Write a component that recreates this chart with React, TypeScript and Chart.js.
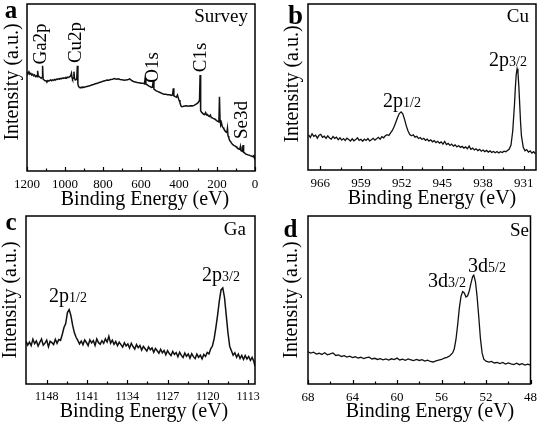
import React, { useEffect, useRef } from "react";
import { Chart, registerables } from "chart.js";

Chart.register(...registerables);

const FONT = "'Liberation Serif', 'Times New Roman', Times, serif";

// ---------- Panel a: survey ----------
const surveyEnergy = [
  1200, 1195, 1190, 1185, 1180, 1175, 1170, 1165, 1160, 1155, 1150, 1147, 1144, 1141, 1136, 1130, 1125, 1121, 1118, 1115,
  1110, 1105, 1100, 1095, 1090, 1085, 1080, 1075, 1070, 1065, 1060, 1055, 1050, 1045, 1040, 1035, 1030, 1025, 1020, 1015,
  1010, 1005, 1000, 995, 990, 985, 980, 975, 970, 966, 963, 960, 957, 953, 950, 946, 942, 938, 935, 932,
  928, 924, 920, 915, 910, 905, 900, 890, 880, 870, 860, 850, 840, 830, 820, 810, 800, 790, 780, 770,
  760, 750, 740, 730, 720, 710, 700, 690, 680, 670, 660, 650, 640, 630, 620, 610, 600, 590, 582, 578,
  574, 566, 560, 552, 545, 540, 535, 532, 525, 520, 510, 500, 490, 480, 470, 460, 450, 440, 434, 430,
  427, 420, 414, 408, 404, 400, 395, 390, 385, 380, 370, 360, 350, 340, 330, 320, 310, 302, 296, 292,
  289, 286, 282, 275, 270, 265, 260, 255, 250, 245, 240, 235, 230, 225, 220, 215, 210, 205, 200, 195,
  190, 187, 184, 180, 176, 172, 168, 164, 160, 156, 152, 148, 145, 142, 138, 134, 130, 125, 120, 115,
  110, 105, 100, 95, 90, 85, 80, 77, 74, 70, 66, 63, 60, 55, 50, 45, 40, 35, 30, 25,
  20, 15, 10, 7, 5, 3, 0,
];
const surveyIntensity = [
  59, 58.5, 59.5, 58, 58.5, 57.5, 58, 57, 57.5, 56.5, 57, 56.5, 60, 57, 56.5, 56, 55.5, 56, 63, 55,
  54.5, 54, 54, 53.5, 54.2, 53.8, 54.2, 54.5, 54, 54.6, 54.3, 54.8, 54.5, 55, 54.8, 55.2, 55, 55.5, 55.2, 55.6,
  55.4, 55.8, 55.5, 56, 55.8, 56.2, 56, 56.5, 57, 58.5, 56, 55, 55.5, 59.5, 55.5, 54.5, 54.8, 55.5, 63, 52,
  50.5, 50, 49.8, 50.2, 49.8, 50.3, 50, 50.5, 50.8, 51, 51.5, 51.8, 52.2, 52.5, 53, 53.3, 53.8, 54, 54.5, 54.4,
  54.8, 55, 55.3, 55, 55.2, 54.8, 54.7, 54.3, 54.5, 54.6, 55.2, 54.3, 53.6, 53.3, 53, 52.8, 52.5, 52.6, 52.2, 55.8,
  52, 51.5, 51, 50.5, 50, 50.2, 54.5, 49, 48.5, 48, 47.5, 47, 46.5, 46, 46, 45.7, 45.6, 45.3, 45.5, 49.5,
  45, 44.5, 44.2, 45.5, 43.8, 42.5, 41, 39, 38.5, 38.6, 38.9, 39, 38.8, 39.1, 39, 39.3, 40, 40.6, 41.5, 42.5,
  57.5, 36, 35.3, 34.5, 34, 33.8, 35, 33.5, 33.8, 33, 32.6, 33.5, 32, 31.8, 31.5, 31.3, 31, 30.5, 30, 29.7,
  29.5, 44.5, 30.5, 27.5, 28.5, 26.5, 26, 25.2, 24.5, 23.8, 23.2, 23, 25.5, 21, 20, 18.5, 17.8, 17, 16.2, 15.6,
  15.2, 15, 14.6, 14, 13.6, 13.2, 13, 14.6, 12.2, 12, 11.8, 15.5, 11.2, 10.8, 10.3, 10, 9.8, 9.6, 9.5, 9.2,
  9, 8.8, 8.5, 9.6, 8.3, 7.8, 7.2,
];
const surveyTicks = [1200, 1000, 800, 600, 400, 200, 0];
const surveyMinor = [1100, 900, 700, 500, 300, 100];

// ---------- Panel b: Cu 2p ----------
const cuEnergy = [
  968.0, 967.7, 967.4, 967.1, 966.8, 966.5, 966.2, 965.9, 965.6, 965.3, 965.0, 964.7, 964.4, 964.1, 963.8, 963.5,
  963.2, 962.9, 962.6, 962.3, 962.0, 961.7, 961.4, 961.1, 960.8, 960.5, 960.2, 959.9, 959.6, 959.3, 959.0, 958.7,
  958.4, 958.1, 957.8, 957.5, 957.2, 956.9, 956.6, 956.3, 956.0, 955.7, 955.4, 955.1, 954.8, 954.5, 954.2, 953.9,
  953.6, 953.3, 953.0, 952.7, 952.4, 952.1, 951.8, 951.5, 951.2, 950.9, 950.6, 950.3, 950.0, 949.7, 949.4, 949.1,
  948.8, 948.5, 948.2, 947.9, 947.6, 947.3, 947.0, 946.7, 946.4, 946.1, 945.8, 945.5, 945.2, 944.9, 944.6, 944.3,
  944.0, 943.7, 943.4, 943.1, 942.8, 942.5, 942.2, 941.9, 941.6, 941.3, 941.0, 940.7, 940.4, 940.1, 939.8, 939.5,
  939.2, 938.9, 938.6, 938.3, 938.0, 937.7, 937.4, 937.1, 936.8, 936.5, 936.2, 935.9, 935.6, 935.3, 935.0, 934.7,
  934.4, 934.1, 933.8, 933.5, 933.2, 932.9, 932.6, 932.45, 932.3, 932.15, 932.0, 931.85, 931.7, 931.55, 931.4, 931.1,
  930.8, 930.5, 930.2, 929.9, 929.6, 929.3, 929.0,
];
const cuIntensity = [
  21.2, 19.6, 21.8, 20.3, 21.0, 19.2, 20.9, 21.5, 19.7, 20.4, 19.0, 20.6, 19.3, 18.6, 20.2, 19.1,
  19.8, 18.2, 19.4, 18.0, 18.9, 17.8, 19.2, 18.4, 17.5, 18.8, 17.6, 18.3, 19.4, 17.9, 18.5, 17.3,
  18.6, 17.8, 18.9, 17.5, 18.2, 19.1, 18.0, 18.8, 19.7, 18.6, 20.1, 19.4, 20.6, 21.3, 20.8, 22.4,
  23.8, 26.0, 28.8, 31.6, 34.0, 35.0, 33.8, 30.5, 26.6, 23.5, 21.4, 20.6, 21.2, 19.8, 20.3, 19.0,
  19.6, 18.4, 19.1, 17.9, 18.6, 17.4, 18.2, 17.0, 17.7, 16.5, 17.3, 16.2, 16.9, 15.6, 17.2, 15.3,
  16.0, 14.8, 15.6, 14.4, 15.1, 13.9, 14.7, 13.6, 14.2, 13.2, 13.9, 12.8, 14.4, 12.5, 13.2, 12.1,
  12.8, 11.7, 12.4, 11.3, 12.0, 11.1, 11.8, 10.8, 11.5, 10.6, 11.2, 10.4, 11.1, 10.3, 11.0, 10.5,
  11.3, 11.0, 11.8, 12.6, 15.0, 23.5, 39.5, 49.5, 57.5, 61.0, 58.5, 50.5, 39.5, 28.5, 20.5, 13.8,
  11.6, 12.3, 10.8, 11.5, 10.2, 11.0, 9.8,
];
const cuTicks = [966, 959, 952, 945, 938, 931];
const cuMinor = [962.5, 955.5, 948.5, 941.5, 934.5];

// ---------- Panel c: Ga 2p ----------
const gaEnergy = [
  1151.6, 1151.3, 1151.0, 1150.7, 1150.4, 1150.1, 1149.8, 1149.5, 1149.2, 1148.9, 1148.6, 1148.3, 1148.0, 1147.7,
  1147.4, 1147.1, 1146.8, 1146.5, 1146.2, 1145.9, 1145.6, 1145.3, 1145.0, 1144.7, 1144.4, 1144.1, 1143.8, 1143.5,
  1143.2, 1142.9, 1142.6, 1142.3, 1142.0, 1141.7, 1141.4, 1141.1, 1140.8, 1140.5, 1140.2, 1139.9, 1139.6, 1139.3,
  1139.0, 1138.7, 1138.4, 1138.1, 1137.8, 1137.5, 1137.2, 1136.9, 1136.6, 1136.3, 1136.0, 1135.7, 1135.4, 1135.1,
  1134.8, 1134.5, 1134.2, 1133.9, 1133.6, 1133.3, 1133.0, 1132.7, 1132.4, 1132.1, 1131.8, 1131.5, 1131.2, 1130.9,
  1130.6, 1130.3, 1130.0, 1129.7, 1129.4, 1129.1, 1128.8, 1128.5, 1128.2, 1127.9, 1127.6, 1127.3, 1127.0, 1126.7,
  1126.4, 1126.1, 1125.8, 1125.5, 1125.2, 1124.9, 1124.6, 1124.3, 1124.0, 1123.7, 1123.4, 1123.1, 1122.8, 1122.5,
  1122.2, 1121.9, 1121.6, 1121.3, 1121.0, 1120.7, 1120.4, 1120.1, 1119.8, 1119.5, 1119.2, 1118.9, 1118.6, 1118.3,
  1118.0, 1117.7, 1117.4, 1117.1, 1116.8, 1116.5, 1116.2, 1115.9, 1115.6, 1115.3, 1115.0, 1114.7, 1114.4, 1114.1,
  1113.8, 1113.5, 1113.2, 1112.9, 1112.6, 1112.3, 1112.0, 1111.8,
];
const gaIntensity = [
  25.5, 23.2, 24.9, 22.8, 26.7, 24.0, 25.6, 22.6, 24.8, 26.8, 23.1, 24.3, 26.1, 22.2,
  25.4, 24.6, 23.5, 26.6, 24.2, 26.5, 26.0, 29.5, 33.6, 36.0, 42.5, 44.3, 40.8, 35.0,
  30.6, 27.8, 26.0, 23.9, 25.6, 23.4, 26.2, 24.7, 22.9, 26.3, 24.5, 25.9, 23.0, 26.8,
  24.6, 23.7, 25.8, 24.2, 26.9, 25.0, 28.4, 24.3, 26.1, 23.6, 25.3, 22.8, 24.9, 23.4,
  21.9, 24.6, 22.7, 23.9, 21.4, 24.2, 22.3, 20.8, 23.5, 21.6, 22.9, 20.2, 22.4, 21.0,
  19.6, 22.1, 20.4, 21.5, 18.9, 21.2, 19.8, 18.3, 20.7, 18.6, 19.9, 17.4, 19.8, 18.1,
  16.9, 19.4, 17.6, 18.7, 16.2, 18.9, 17.0, 15.8, 18.4, 16.5, 17.9, 15.4, 18.0, 16.3,
  15.1, 17.8, 15.9, 17.2, 15.0, 17.6, 16.4, 18.8, 17.9, 21.0, 22.6, 27.0, 33.5, 41.0,
  49.5, 56.0, 57.2, 51.5, 41.0, 30.5, 22.5, 19.8, 17.2, 18.6, 15.9, 17.8, 15.2, 17.0,
  14.6, 16.9, 14.9, 16.4, 14.1, 15.8, 13.5, 10.5,
];
const gaTicks = [1148, 1141, 1134, 1127, 1120, 1113];
const gaMinor = [1144.5, 1137.5, 1130.5, 1123.5, 1116.5];

// ---------- Panel d: Se 3d ----------
const seEnergy = [
  68.0, 67.75, 67.5, 67.25, 67.0, 66.75, 66.5, 66.25, 66.0, 65.75, 65.5, 65.25, 65.0, 64.75, 64.5, 64.25,
  64.0, 63.75, 63.5, 63.25, 63.0, 62.75, 62.5, 62.25, 62.0, 61.75, 61.5, 61.25, 61.0, 60.75, 60.5, 60.25,
  60.0, 59.75, 59.5, 59.25, 59.0, 58.75, 58.5, 58.25, 58.0, 57.75, 57.5, 57.25, 57.0, 56.75, 56.5, 56.25,
  56.0, 55.75, 55.5, 55.25, 55.0, 54.85, 54.7, 54.55, 54.4, 54.25, 54.1, 53.95, 53.8, 53.65, 53.5, 53.35,
  53.2, 53.1, 52.95, 52.8, 52.65, 52.5, 52.35, 52.2, 52.0, 51.75, 51.5, 51.25, 51.0, 50.75, 50.5, 50.25,
  50.0, 49.75, 49.5, 49.25, 49.0, 48.75, 48.5, 48.25, 48.0,
];
const seIntensity = [
  19.2, 18.4, 18.9, 17.8, 18.3, 17.6, 18.6, 17.4, 17.9, 18.5, 17.0, 17.3, 16.4, 16.9, 16.0, 16.6,
  15.7, 16.2, 15.4, 15.9, 15.1, 15.7, 16.0, 14.9, 15.3, 14.6, 15.1, 14.4, 14.9, 14.2, 15.0, 14.5,
  15.4, 14.3, 14.8, 14.1, 14.9, 14.4, 13.9, 14.6, 14.0, 14.5, 13.6, 14.2, 13.4, 13.1, 13.8, 14.2,
  14.6, 15.4, 15.9, 16.8, 18.5, 21.0, 26.5, 35.0, 45.0, 52.0, 55.0, 54.2, 51.8, 52.5, 55.5, 60.0,
  64.0, 64.8, 61.0, 52.0, 40.0, 27.0, 18.5, 14.8, 13.6, 13.0, 13.4, 12.5, 12.9, 12.2, 12.8, 11.9,
  12.6, 12.0, 11.6, 12.4, 11.5, 12.1, 11.3, 11.8, 11.2,
];
const seTicks = [68, 64, 60, 56, 52, 48];
const seMinor = [66, 62, 58, 54, 50];

type Note = { text: string; sub?: string; x: number; y: number; rot?: boolean };

type Panel = {
  left: number; top: number; w: number; h: number;
  area: { l: number; t: number; r: number; b: number };
  energy: number[]; intensity: number[];
  min: number; max: number;
  major: number[]; minor: number[];
  tickSize: number;
  lineWidth: number;
  letter: string; letterPos: [number, number]; letterSize: number;
  corner: string; cornerPos: [number, number];
  yTitle: [number, number];
  xTitle: [number, number];
  notes: Note[];
};

const panels: Panel[] = [
  {
    left: 0, top: 0, w: 271, h: 212,
    area: { l: 27, t: 4, r: 255, b: 171 },
    energy: surveyEnergy, intensity: surveyIntensity,
    min: 0, max: 1200, major: surveyTicks, minor: surveyMinor, tickSize: 13, lineWidth: 1.5,
    letter: "a", letterPos: [11, 18], letterSize: 25,
    corner: "Survey", cornerPos: [248, 22],
    yTitle: [12.5, 82], xTitle: [145, 200],
    notes: [
      { text: "Ga2p", x: 41, y: 44, rot: true },
      { text: "Cu2p", x: 76, y: 42.5, rot: true },
      { text: "O1s", x: 153.5, y: 67.5, rot: true },
      { text: "C1s", x: 201.5, y: 57.5, rot: true },
      { text: "Se3d", x: 242.5, y: 120, rot: true },
    ],
  },
  {
    left: 271, top: 0, w: 272, h: 212,
    area: { l: 37, t: 4, r: 265, b: 170 },
    energy: cuEnergy, intensity: cuIntensity,
    min: 928.9, max: 968.1, major: cuTicks, minor: cuMinor, tickSize: 13, lineWidth: 1.3,
    letter: "b", letterPos: [24.5, 24], letterSize: 27,
    corner: "Cu", cornerPos: [258, 22],
    yTitle: [21.5, 84], xTitle: [161, 199],
    notes: [
      { text: "2p", sub: "3/2", x: 218, y: 66 },
      { text: "2p", sub: "1/2", x: 112, y: 107 },
    ],
  },
  {
    left: 0, top: 212, w: 271, h: 213,
    area: { l: 26, t: 4, r: 255, b: 172 },
    energy: gaEnergy, intensity: gaIntensity,
    min: 1111.8, max: 1151.6, major: gaTicks, minor: gaMinor, tickSize: 12, lineWidth: 1.5,
    letter: "c", letterPos: [11, 18], letterSize: 25,
    corner: "Ga", cornerPos: [246, 23],
    yTitle: [10.5, 88], xTitle: [144, 200],
    notes: [
      { text: "2p", sub: "1/2", x: 49, y: 90 },
      { text: "2p", sub: "3/2", x: 202, y: 69 },
    ],
  },
  {
    left: 271, top: 212, w: 272, h: 213,
    area: { l: 37, t: 4, r: 264, b: 172 },
    energy: seEnergy, intensity: seIntensity,
    min: 48, max: 68, major: seTicks, minor: seMinor, tickSize: 13, lineWidth: 1.3,
    letter: "d", letterPos: [19.5, 25], letterSize: 25,
    corner: "Se", cornerPos: [258, 24],
    yTitle: [20.5, 88], xTitle: [159, 200],
    notes: [
      { text: "3d", sub: "3/2", x: 157, y: 75 },
      { text: "3d", sub: "5/2", x: 197, y: 60 },
    ],
  },
];

function makeDecor(p: Panel) {
  return {
    id: "decor",
    afterDatasetsDraw(chart: any) {
      const ctx: CanvasRenderingContext2D = chart.ctx;
      const { left, right, top, bottom } = chart.chartArea;
      const xs = chart.scales.x;
      ctx.save();
      ctx.strokeStyle = "#000";
      ctx.fillStyle = "#000";
      ctx.lineWidth = 1.5;
      ctx.strokeRect(left, top, right - left, bottom - top);
      ctx.lineWidth = 1.2;
      const tick = (v: number, len: number) => {
        const x = Math.round(xs.getPixelForValue(v)) + 0.5;
        ctx.beginPath();
        ctx.moveTo(x, bottom);
        ctx.lineTo(x, bottom - len);
        ctx.stroke();
      };
      p.major.forEach((v) => tick(v, 4));
      p.minor.forEach((v) => tick(v, 2.5));

      ctx.font = `bold ${p.letterSize}px ${FONT}`;
      ctx.textAlign = "center";
      ctx.textBaseline = "alphabetic";
      ctx.fillText(p.letter, p.letterPos[0], p.letterPos[1]);

      ctx.font = `19px ${FONT}`;
      ctx.textAlign = "right";
      ctx.fillText(p.corner, p.cornerPos[0], p.cornerPos[1]);

      ctx.save();
      ctx.translate(p.yTitle[0], p.yTitle[1]);
      ctx.rotate(-Math.PI / 2);
      ctx.font = `20px ${FONT}`;
      ctx.textAlign = "center";
      ctx.textBaseline = "middle";
      ctx.fillText("Intensity (a.u.)", 0, 0);
      ctx.restore();

      ctx.font = `20px ${FONT}`;
      ctx.textAlign = "center";
      ctx.textBaseline = "middle";
      ctx.fillText("Binding Energy (eV)", p.xTitle[0], p.xTitle[1]);

      p.notes.forEach((n) => {
        if (n.rot) {
          ctx.save();
          ctx.translate(n.x, n.y);
          ctx.rotate(-Math.PI / 2);
          ctx.font = `19px ${FONT}`;
          ctx.textAlign = "center";
          ctx.textBaseline = "middle";
          ctx.fillText(n.text, 0, 0);
          ctx.restore();
        } else {
          ctx.textAlign = "left";
          ctx.textBaseline = "alphabetic";
          ctx.font = `20px ${FONT}`;
          ctx.fillText(n.text, n.x, n.y);
          const w = ctx.measureText(n.text).width;
          if (n.sub) {
            ctx.font = `14px ${FONT}`;
            ctx.fillText(n.sub, n.x + w, n.y);
          }
        }
      });
      ctx.restore();
    },
  };
}

function PanelChart({ p }: { p: Panel }) {
  const ref = useRef<HTMLCanvasElement | null>(null);
  useEffect(() => {
    if (!ref.current) return;
    const data = p.energy.map((e, i) => ({ x: e, y: p.intensity[i] }));
    const chart = new Chart(ref.current, {
      type: "line",
      data: {
        datasets: [
          {
            data,
            borderColor: "#111",
            borderWidth: p.lineWidth,
            pointRadius: 0,
            tension: 0,
            fill: false,
          },
        ],
      },
      options: {
        animation: false,
        responsive: false,
        devicePixelRatio: 1,
        parsing: false,
        normalized: true,
        layout: { padding: { left: 0, top: p.area.t, right: p.w - p.area.r, bottom: 0 } },
        plugins: { legend: { display: false }, tooltip: { enabled: false }, title: { display: false } },
        scales: {
          x: {
            type: "linear",
            reverse: true,
            min: p.min,
            max: p.max,
            grid: { display: false, drawTicks: false },
            border: { display: false },
            afterBuildTicks: (s: any) => {
              s.ticks = p.major.map((v) => ({ value: v }));
            },
            afterFit: (s: any) => {
              s.height = p.h - p.area.b;
            },
            ticks: {
              autoSkip: false,
              maxRotation: 0,
              minRotation: 0,
              padding: 6,
              color: "#000",
              font: { family: FONT, size: p.tickSize },
              callback: (v: any) => String(v),
            },
          },
          y: {
            type: "linear",
            min: 0,
            max: 100,
            grid: { display: false, drawTicks: false },
            border: { display: false },
            ticks: { display: false },
            afterFit: (s: any) => {
              s.width = p.area.l;
            },
          },
        },
      } as any,
      plugins: [makeDecor(p)],
    });
    return () => chart.destroy();
  }, [p]);
  return (
    <canvas
      ref={ref}
      width={p.w}
      height={p.h}
      style={{ position: "absolute", left: p.left, top: p.top, width: p.w, height: p.h, display: "block" }}
    />
  );
}

export default function App() {
  return (
    <div style={{ position: "absolute", left: 0, top: 0, width: 543, height: 425, background: "#fff", overflow: "hidden" }}>
      {panels.map((p, i) => (
        <PanelChart key={i} p={p} />
      ))}
    </div>
  );
}
